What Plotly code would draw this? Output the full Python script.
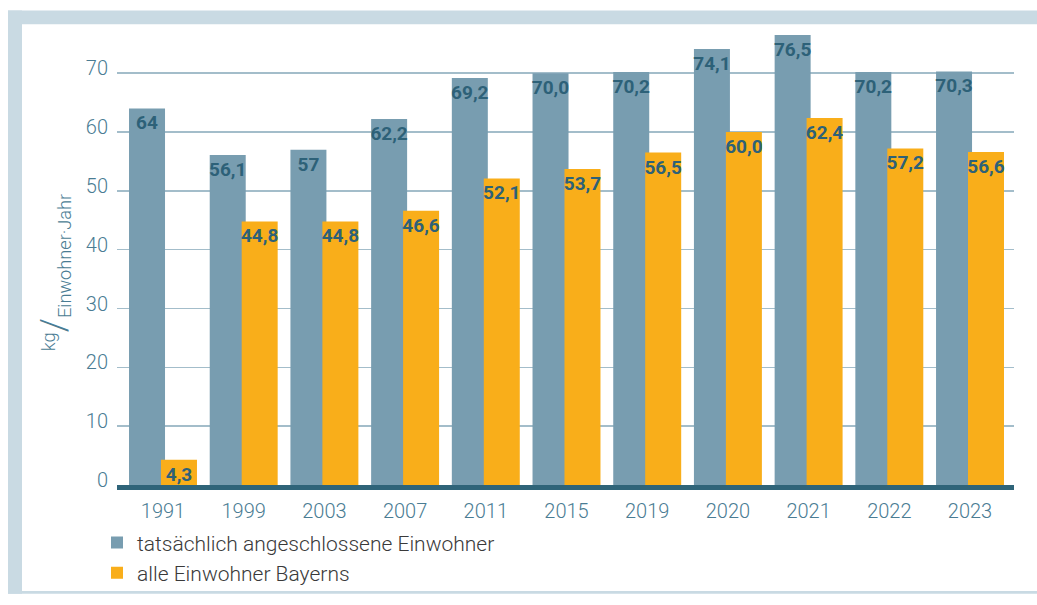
import plotly.graph_objects as go

years = ["1991", "1999", "2003", "2007", "2011", "2015", "2019", "2020", "2021", "2022", "2023"]
angeschlossen = [64, 56.1, 57, 62.2, 69.2, 70.0, 70.2, 74.1, 76.5, 70.2, 70.3]
angeschlossen_labels = ["64", "56,1", "57", "62,2", "69,2", "70,0", "70,2", "74,1", "76,5", "70,2", "70,3"]
bayern = [4.3, 44.8, 44.8, 46.6, 52.1, 53.7, 56.5, 60.0, 62.4, 57.2, 56.6]
bayern_labels = ["4,3", "44,8", "44,8", "46,6", "52,1", "53,7", "56,5", "60,0", "62,4", "57,2", "56,6"]
series_names = ["tatsächlich angeschlossene Einwohner", "alle Einwohner Bayerns"]
y_ticks = [0, 10, 20, 30, 40, 50, 60, 70]

W, H = 1037, 605
L, R, T, B = 117, 1014, 32, 494
BLUE = "#789db0"
ORANGE = "#f9ae1a"
LABEL = "#2d6178"
TICK = "#4a7c93"
GRID = "#a3bdca"
BASE = "#2f6479"
FRAME = "#c9dae3"

def px(x):
    return (x - L) / (R - L)

def py(y):
    return (B - y) / (B - T)

xs = list(range(len(years)))
label_font = dict(family="Roboto, sans-serif", size=19, color=LABEL, weight="bold")

fig = go.Figure()
fig.add_trace(go.Bar(
    x=xs, y=angeschlossen, name=series_names[0], marker=dict(color=BLUE, line=dict(width=0)),
    width=0.446, offset=-0.421, text=angeschlossen_labels, textposition="inside",
    insidetextanchor="end", textfont=label_font, textangle=0, hoverinfo="skip",
))
fig.add_trace(go.Bar(
    x=xs, y=bayern, name=series_names[1], marker=dict(color=ORANGE, line=dict(width=0)),
    width=0.446, offset=-0.025, text=bayern_labels, textposition="inside",
    insidetextanchor="end", textfont=label_font, textangle=0, hoverinfo="skip",
))

shapes = [
    dict(type="rect", xref="paper", yref="paper", x0=px(8), x1=px(W), y0=py(10), y1=py(24),
         fillcolor=FRAME, line=dict(width=0), layer="below"),
    dict(type="rect", xref="paper", yref="paper", x0=px(8), x1=px(22), y0=py(10), y1=py(H),
         fillcolor=FRAME, line=dict(width=0), layer="below"),
    dict(type="rect", xref="paper", yref="paper", x0=px(8), x1=px(W), y0=py(602), y1=py(H),
         fillcolor=FRAME, line=dict(width=0), layer="below"),
]

fig.update_layout(
    width=W, height=H,
    margin=dict(l=L, r=W - R, t=T, b=H - B, pad=0),
    paper_bgcolor="white", plot_bgcolor="white",
    barmode="overlay",
    showlegend=True,
    uniformtext=dict(minsize=19, mode="show"),
    font=dict(family="Roboto, Liberation Sans, sans-serif", color=TICK),
    legend=dict(x=px(97), y=py(532), xanchor="left", yanchor="top", orientation="v",
                font=dict(size=21, color="#3a3a3a", family="Roboto, Liberation Sans, sans-serif", weight=300),
                bgcolor="rgba(0,0,0,0)", tracegroupgap=0, itemwidth=30, traceorder="normal"),
    xaxis=dict(range=[-0.570, 10.545], tickmode="array", tickvals=xs, ticktext=years,
               showgrid=False, zeroline=False, showline=True, linecolor=BASE, linewidth=5,
               ticks="", tickfont=dict(size=20, color=TICK, weight=300), ticklabelstandoff=4,
               fixedrange=True),
    yaxis=dict(range=[0, 77], tickmode="array", tickvals=y_ticks, showgrid=True, gridcolor=GRID,
               gridwidth=1.5, zeroline=False, showline=False, ticks="",
               tickfont=dict(size=20, color=TICK, weight=300), ticklabelstandoff=8,
               ticklabelshift=-5, fixedrange=True),
    shapes=shapes,
    hovermode=False,
    annotations=[dict(
        xref="paper", yref="paper", x=px(54), y=py(278), xanchor="center", yanchor="middle",
        textangle=-90, showarrow=False,
        text="<sup>kg</sup><span style='font-size:36px'>/</span><sub>Einwohner·Jahr</sub>",
        font=dict(size=26, color=TICK, family="Roboto, Liberation Sans, sans-serif", weight=300),
    )],
)

fig.write_html(
    "out.html",
    config={"displayModeBar": False, "staticPlot": True},
    post_script="document.documentElement.style.overflow='hidden';document.body.style.margin='0';document.body.style.overflow='hidden';document.body.style.background='white';",
)
